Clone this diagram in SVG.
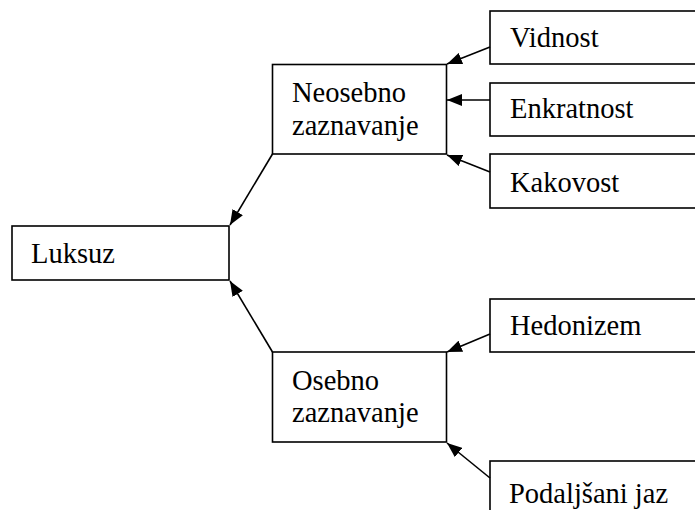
<svg xmlns="http://www.w3.org/2000/svg" width="695" height="510" viewBox="0 0 695 510">
<style>
.box{fill:#fff;stroke:#000;stroke-width:1.6}
text{font-family:'Liberation Serif','Times New Roman',Times,serif;font-size:28.5px;fill:#000}
.c{stroke:#000;stroke-width:1.6;fill:none;marker-end:url(#ah)}
</style>
<defs>
<marker id="ah" markerUnits="userSpaceOnUse" markerWidth="16" markerHeight="12" refX="15" refY="6" orient="auto">
<path d="M0,0 L15,6 L0,12 Z" fill="#000"/>
</marker>
</defs>
<rect width="695" height="510" fill="#fff"/>
<g id="luksuz"><rect class="box" x="12" y="226" width="217" height="54"/><text font-family="Liberation Serif, serif" x="31" y="263">Luksuz</text></g>
<g id="neosebno"><rect class="box" x="272.5" y="64.5" width="174" height="89.5"/><text font-family="Liberation Serif, serif" x="292" y="102">Neosebno</text><text font-family="Liberation Serif, serif" x="292" y="135">zaznavanje</text></g>
<g id="osebno"><rect class="box" x="272.5" y="352" width="174" height="90"/><text font-family="Liberation Serif, serif" x="292" y="390">Osebno</text><text font-family="Liberation Serif, serif" x="292" y="422">zaznavanje</text></g>
<g id="vidnost"><rect class="box" x="490" y="11" width="215" height="53"/><text font-family="Liberation Serif, serif" x="510" y="47">Vidnost</text></g>
<g id="enkratnost"><rect class="box" x="490" y="83" width="215" height="53"/><text font-family="Liberation Serif, serif" x="510" y="118">Enkratnost</text></g>
<g id="kakovost"><rect class="box" x="490" y="154" width="215" height="54"/><text font-family="Liberation Serif, serif" x="510" y="192">Kakovost</text></g>
<g id="hedonizem"><rect class="box" x="490" y="299" width="215" height="53"/><text font-family="Liberation Serif, serif" x="510" y="335">Hedonizem</text></g>
<g id="podaljsani"><rect class="box" x="490" y="461" width="215" height="60"/><text font-family="Liberation Serif, serif" x="509" y="503">Podaljšani jaz</text></g>
<g id="connectors">
<line class="c" x1="490" y1="47" x2="447" y2="64"/>
<line class="c" x1="490" y1="100" x2="447" y2="100"/>
<line class="c" x1="490" y1="172" x2="447" y2="155"/>
<line class="c" x1="272.5" y1="154" x2="230" y2="225"/>
<line class="c" x1="272.5" y1="352" x2="230" y2="281"/>
<line class="c" x1="490" y1="334" x2="447" y2="352"/>
<line class="c" x1="490" y1="478" x2="447" y2="443"/>
</g>
</svg>
